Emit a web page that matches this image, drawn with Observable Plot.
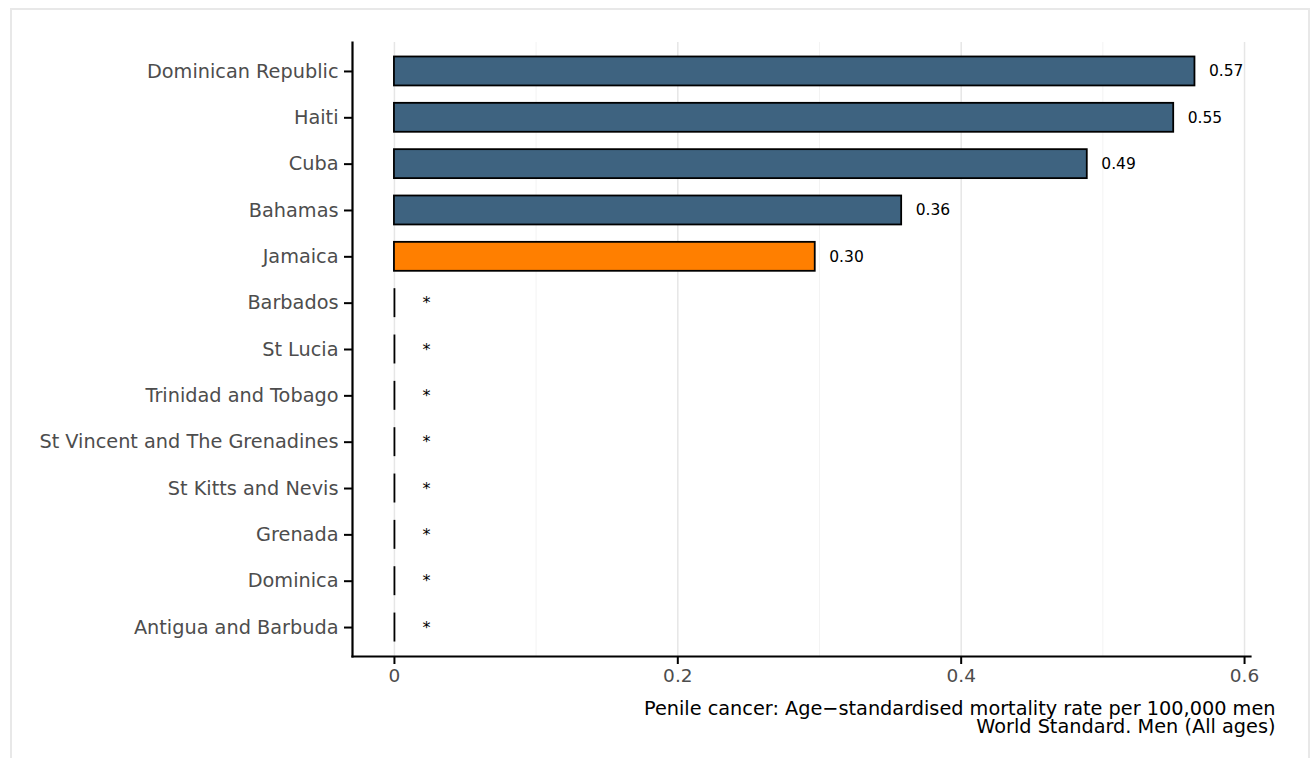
<!DOCTYPE html>
<html>
<head>
<meta charset="utf-8">
<script src="https://cdn.jsdelivr.net/npm/d3@7"></script>
<script src="https://cdn.jsdelivr.net/npm/@observablehq/plot@0.6"></script>
<style>
  html, body { margin: 0; padding: 0; background: #fff; }
  #wrap { position: relative; width: 1312px; height: 758px; overflow: hidden; }
  #border { position: absolute; left: 10px; top: 8px; width: 1300px; height: 800px; border: 2px solid #e8e8e8; box-sizing: border-box; }
  #chart { position: absolute; left: 0; top: 0; }
  svg { font-family: "DejaVu Sans", sans-serif; }
</style>
</head>
<body>
<div id="wrap"><div id="border"></div><div id="chart"></div></div>
<script>
const countries = ["Dominican Republic", "Haiti", "Cuba", "Bahamas", "Jamaica", "Barbados", "St Lucia",
  "Trinidad and Tobago", "St Vincent and The Grenadines", "St Kitts and Nevis", "Grenada", "Dominica",
  "Antigua and Barbuda"];
const rates = [0.565, 0.55, 0.489, 0.358, 0.297, 0, 0, 0, 0, 0, 0, 0, 0];
const labels = ["0.57", "0.55", "0.49", "0.36", "0.30", "*", "*", "*", "*", "*", "*", "*", "*"];
const highlight = "Jamaica";
const majorTicks = [0, 0.2, 0.4, 0.6];
const minorTicks = [0.1, 0.3, 0.5];
const axisTitle = "Penile cancer: Age\u2212standardised mortality rate per 100,000 men\nWorld Standard. Men (All ages)";

const data = countries.map((c, i) => ({country: c, rate: rates[i], label: labels[i], hl: c === highlight}));
const nonzero = data.filter(d => d.rate > 0);
const zero = data.filter(d => d.rate === 0);
const xDomain = [-0.0296, 0.6042];

const plot = Plot.plot({
  width: 1312,
  height: 758,
  marginTop: 42,
  marginBottom: 102,
  marginLeft: 352,
  marginRight: 62,
  style: {fontFamily: "DejaVu Sans, sans-serif", background: "transparent"},
  x: {domain: xDomain},
  y: {domain: countries, paddingInner: 0.375, paddingOuter: 0.3125, round: false, label: null},
  marks: [
    Plot.gridX(minorTicks, {stroke: "#f3f3f3", strokeOpacity: 1, strokeWidth: 1}),
    Plot.gridX(majorTicks, {stroke: "#e6e6e6", strokeOpacity: 1, strokeWidth: 1.5}),
    Plot.barX(nonzero, {x: "rate", y: "country", fill: d => d.hl ? "#FF7F00" : "#3E6380", stroke: "#000", strokeWidth: 1.8}),
    Plot.tickX(zero, {x: "rate", y: "country", stroke: "#000", strokeWidth: 1.8}),
    Plot.text(nonzero, {x: "rate", y: "country", text: "label", textAnchor: "start", dx: 14, fontSize: 15.5, fill: "#000"}),
    Plot.text(zero, {x: "rate", y: "country", text: "label", textAnchor: "middle", dx: 32, dy: 0, fontSize: 16, fill: "#000"}),
    Plot.axisY({tickSize: 8, tickPadding: 6, fontSize: 19.3, color: "#4d4d4d", stroke: "#000", strokeWidth: 2, label: null}),
    Plot.axisX(majorTicks, {tickSize: 8, tickPadding: 4, fontSize: 18.5, color: "#4d4d4d", stroke: "#000", strokeWidth: 2, label: null, tickFormat: d => String(d)}),
    Plot.frame({anchor: "left", stroke: "#000", strokeWidth: 2.2}),
    Plot.frame({anchor: "bottom", stroke: "#000", strokeWidth: 2.2}),
    Plot.text([axisTitle], {frameAnchor: "bottom-right", text: d => d, textAnchor: "end", lineAnchor: "top", dx: 25, dy: 45, fontSize: 19.3, lineHeight: 0.96, fill: "#000"})
  ]
});
document.getElementById("chart").appendChild(plot);
</script>
</body>
</html>
